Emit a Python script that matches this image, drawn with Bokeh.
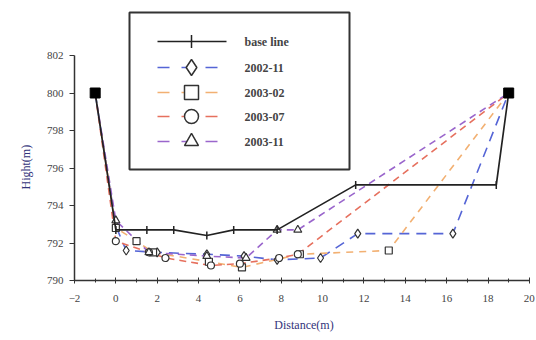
import math

from bokeh.core.properties import value
from bokeh.embed import file_html
from bokeh.models import FixedTicker, Range1d, Title
from bokeh.plotting import figure
from bokeh.resources import INLINE

# ---- survey data: bed elevation (m) against distance across the section (m) ----
base_x = [-1, 0, 1.5, 2.8, 4.4, 5.7, 7.8, 11.6, 18.4, 19]
base_y = [800, 792.7, 792.7, 792.7, 792.4, 792.7, 792.7, 795.1, 795.1, 800]

x_2002_11 = [-1, 0, 0.5, 2.0, 4.4, 6.2, 7.8, 9.9, 11.7, 16.3, 19]
y_2002_11 = [800, 792.9, 791.6, 791.5, 791.4, 791.3, 791.1, 791.2, 792.5, 792.5, 800]

x_2003_02 = [-1, 0, 1.0, 1.8, 4.5, 6.1, 8.9, 13.2, 19]
y_2003_02 = [800, 792.8, 792.1, 791.5, 791.0, 790.7, 791.4, 791.6, 800]

x_2003_07 = [-1, 0, 1.6, 2.4, 4.6, 6.0, 7.9, 8.8, 19]
y_2003_07 = [800, 792.1, 791.5, 791.2, 790.8, 790.9, 791.2, 791.4, 800]

x_2003_11 = [-1, 0, 1.6, 4.4, 6.3, 7.8, 8.8, 19]
y_2003_11 = [800, 793.2, 791.5, 791.3, 791.2, 792.7, 792.7, 800]

legend_labels = ["base line", "2002-11", "2003-02", "2003-07", "2003-11"]

x_ticks = [-2, 0, 2, 4, 6, 8, 10, 12, 14, 16, 18, 20]
x_minor = [-1, 1, 3, 5, 7, 9, 11, 13, 15, 17, 19]
y_ticks = [790, 792, 794, 796, 798, 800, 802]

series = [
    dict(x=x_2002_11, y=y_2002_11, color="#5565d6", dash="10 7", marker="diamond", size=9),
    dict(x=x_2003_02, y=y_2003_02, color="#f2b072", dash="7 6", marker="square", size=7),
    dict(x=x_2003_07, y=y_2003_07, color="#e6705e", dash="7 5", marker="circle", size=7),
    dict(x=x_2003_11, y=y_2003_11, color="#9a66cc", dash="7 5", marker="triangle", size=8),
]

# ---- frame geometry (pixels) ----
FRAME_L, FRAME_T, FRAME_W, FRAME_H = 74, 8, 459, 272
X_START, X_END = -2, 20.2
PX_PER_M = 18.75
Y_START = 790
Y_END = Y_START + FRAME_H / PX_PER_M


def sx(px):
    """Pixel column -> data x (used for legend layout)."""
    return X_START + (px - FRAME_L) / FRAME_W * (X_END - X_START)


def sy(py):
    """Pixel row -> data y (used for legend layout)."""
    return Y_END - (py - FRAME_T) / FRAME_H * (Y_END - Y_START)


p = figure(
    frame_width=FRAME_W, frame_height=FRAME_H,
    min_border_left=FRAME_L, min_border_right=3,
    min_border_top=FRAME_T, min_border_bottom=60,
    x_range=Range1d(X_START, X_END), y_range=Range1d(Y_START, Y_END),
    output_backend="svg", toolbar_location=None,
)
p.background_fill_color = "white"
p.border_fill_color = "white"
p.outline_line_color = None
p.xgrid.visible = False
p.ygrid.visible = False

SERIF = "Liberation Serif"
AXIS_COLOR = "#333333"
LABEL_COLOR = "#33337a"

xa = p.xaxis[0]
xa.ticker = FixedTicker(ticks=x_ticks, minor_ticks=x_minor)
xa.bounds = (-2, 20)
xa.axis_line_color = AXIS_COLOR
xa.axis_line_width = 1.5
xa.major_tick_line_color = AXIS_COLOR
xa.minor_tick_line_color = AXIS_COLOR
xa.major_tick_in = 3
xa.major_tick_out = 3
xa.minor_tick_in = 2
xa.minor_tick_out = 2
xa.major_label_text_font = SERIF
xa.major_label_text_font_size = "11px"
xa.major_label_text_color = "#444444"
xa.major_label_standoff = 11
xa.axis_label = "Distance(m)"
xa.axis_label_text_font = SERIF
xa.axis_label_text_font_size = "12px"
xa.axis_label_text_font_style = "normal"
xa.axis_label_text_color = LABEL_COLOR
xa.axis_label_standoff = 13

ya = p.yaxis[0]
ya.ticker = FixedTicker(ticks=y_ticks)
ya.bounds = (790, 802)
ya.axis_line_color = AXIS_COLOR
ya.axis_line_width = 1.5
ya.major_tick_line_color = AXIS_COLOR
ya.minor_tick_line_color = None
ya.major_tick_in = 0
ya.major_tick_out = 5
ya.major_label_text_font = SERIF
ya.major_label_text_font_size = "11px"
ya.major_label_text_color = "#444444"
ya.major_label_standoff = 6

# y-axis title, shifted up so it sits beside the 790-802 span of the axis
p.add_layout(Title(text="Hight(m)", align="left", offset=91, standoff=22,
                   text_font=SERIF, text_font_size="12px", text_font_style="normal",
                   text_color=LABEL_COLOR), "left")

# ---- survey profiles ----
for s in series:
    p.line(s["x"], s["y"], line_color=s["color"], line_width=1.6, line_dash=s["dash"])
for s in series:
    p.scatter(s["x"][1:-1], s["y"][1:-1], marker=s["marker"], size=s["size"],
              line_color="#333333", line_width=1.2, fill_color="white")

# ---- reference line (base line) on top ----
p.line(base_x, base_y, line_color="#222222", line_width=1.7)
p.scatter(base_x[1:-1], base_y[1:-1], marker="dash", angle=math.pi / 2, size=8,
          line_color="#222222", line_width=1.5)
p.scatter([base_x[0], base_x[-1]], [base_y[0], base_y[-1]], marker="square", size=10,
          line_color="black", fill_color="black")

# ---- legend box ----
p.quad(left=[sx(129)], right=[sx(349)], top=[sy(12)], bottom=[sy(169)],
       fill_color="white", line_color="#333333", line_width=2)

row_py = [41, 67, 92, 116, 141]
seg_x0, seg_x1, mark_x, text_x = sx(157), sx(226), sx(191), sx(244)

p.line([seg_x0, seg_x1], [sy(row_py[0])] * 2, line_color="#222222", line_width=1.5)
p.scatter([mark_x], [sy(row_py[0])], marker="dash", angle=math.pi / 2, size=13,
          line_color="#222222", line_width=1.5)
for s, py in zip(series, row_py[1:]):
    p.line([seg_x0, seg_x1], [sy(py)] * 2, line_color=s["color"], line_width=1.6,
           line_dash="12 12")
    p.scatter([mark_x], [sy(py)], marker=s["marker"], size=14 if s["marker"] != "diamond" else 16,
              line_color="#333333", line_width=1.5, fill_color="white")

p.text([text_x] * len(legend_labels), [sy(py) for py in row_py], text=legend_labels,
       text_font=value(SERIF), text_font_size="12px", text_font_style="bold",
       text_color="#444444", text_baseline="middle", text_align="left")

open("out.html", "w").write(file_html(p, INLINE))
